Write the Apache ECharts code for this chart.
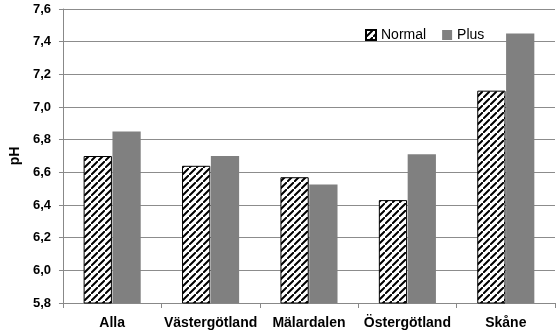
<!DOCTYPE html>
<html><head><meta charset="utf-8">
<script src="https://cdn.jsdelivr.net/npm/echarts@6/dist/echarts.min.js"></script>
<style>html,body{margin:0;padding:0;background:#fff}#c{width:559px;height:335px}</style>
</head><body><div id="c"></div>
<script>
const categories = ['Alla', 'Västergötland', 'Mälardalen', 'Östergötland', 'Skåne'];
const normalValues = [6.70, 6.64, 6.57, 6.43, 7.10];
const plusValues = [6.85, 6.70, 6.525, 6.71, 7.45];
const seriesNames = ['Normal', 'Plus'];

const S = 7;
const pc = document.createElement('canvas');
pc.width = S; pc.height = S;
const g = pc.getContext('2d');
g.fillStyle = '#fff'; g.fillRect(0, 0, S, S);
g.strokeStyle = '#000'; g.lineWidth = 2;
g.beginPath();
g.moveTo(-1, S + 1); g.lineTo(S + 1, -1);
g.moveTo(-S - 1, 1); g.lineTo(1, -S - 1);
g.moveTo(S - 1, 2 * S + 1); g.lineTo(2 * S + 1, S - 1);
g.stroke();

const chart = echarts.init(document.getElementById('c'));
const font = '"Liberation Sans", Arial, sans-serif';
chart.setOption({
  animation: false,
  textStyle: { fontFamily: font },
  grid: { left: 60, right: 4, top: 9, bottom: 32 },
  legend: {
    left: 360, top: 23, itemWidth: 10, itemHeight: 10, itemGap: 16, icon: 'rect',
    textStyle: { fontSize: 14, color: '#000', fontFamily: font },
    data: seriesNames
  },
  xAxis: {
    type: 'category', data: categories,
    axisLine: { lineStyle: { color: '#888', width: 1 } },
    axisTick: { show: true, length: 5, lineStyle: { color: '#888' } },
    axisLabel: { interval: 0, fontWeight: 'bold', fontSize: 14, color: '#000', margin: 13 }
  },
  yAxis: {
    type: 'value', min: 5.8, max: 7.6, interval: 0.2,
    name: 'pH', nameLocation: 'middle', nameGap: 40, nameRotate: 90,
    nameTextStyle: { fontWeight: 'bold', fontSize: 14, color: '#000' },
    axisLine: { show: true, lineStyle: { color: '#888' } },
    axisTick: { show: true, length: 4, lineStyle: { color: '#888' } },
    splitLine: { lineStyle: { color: '#8c8c8c', width: 1 } },
    axisLabel: {
      fontWeight: 'bold', fontSize: 13, color: '#000', margin: 12,
      formatter: v => v.toFixed(1).replace('.', ',')
    }
  },
  series: [
    { name: seriesNames[0], type: 'bar', data: normalValues, barGap: '2%', barCategoryGap: '42%',
      itemStyle: { color: { image: pc, repeat: 'repeat' }, borderColor: '#000', borderWidth: 1 } },
    { name: seriesNames[1], type: 'bar', data: plusValues,
      itemStyle: { color: '#808080' } }
  ]
});
</script></body></html>
